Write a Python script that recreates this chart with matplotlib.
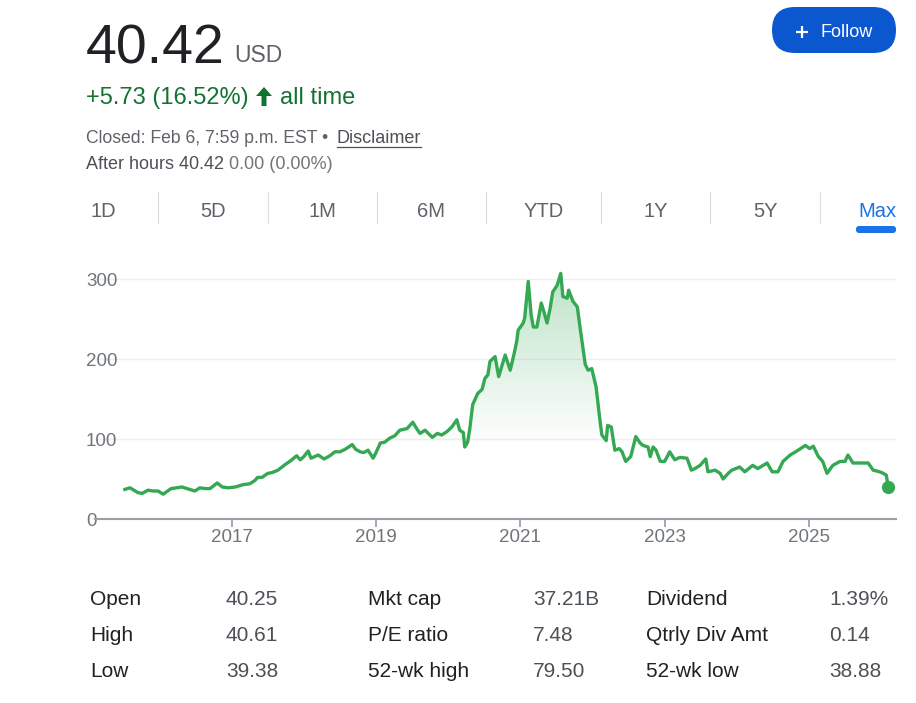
import numpy as np
import matplotlib
matplotlib.use("Agg")
import matplotlib.pyplot as plt
from matplotlib.colors import LinearSegmentedColormap
from matplotlib.patches import FancyBboxPatch, Polygon

plt.rcParams['font.family'] = ['Liberation Sans', 'DejaVu Sans']

# ---------------- data ----------------
years = [2015.52, 2015.59, 2015.70, 2015.76, 2015.84, 2015.91, 2015.98, 2016.05, 2016.16, 2016.24,
         2016.31, 2016.38, 2016.49, 2016.56, 2016.63, 2016.70, 2016.80, 2016.87, 2016.95, 2017.05,
         2017.16, 2017.25, 2017.32, 2017.36, 2017.42, 2017.50, 2017.56, 2017.64, 2017.74, 2017.82,
         2017.90, 2017.95, 2018.00, 2018.06, 2018.10, 2018.20, 2018.28, 2018.36, 2018.43, 2018.50,
         2018.57, 2018.67, 2018.72, 2018.78, 2018.83, 2018.89, 2018.96, 2019.00, 2019.06, 2019.12,
         2019.19, 2019.26, 2019.33, 2019.43, 2019.51, 2019.57, 2019.61, 2019.68, 2019.78, 2019.85,
         2019.91, 2019.98, 2020.05, 2020.12, 2020.16, 2020.21, 2020.23, 2020.27, 2020.30, 2020.34,
         2020.41, 2020.47, 2020.51, 2020.55, 2020.58, 2020.65, 2020.70, 2020.79, 2020.86, 2020.91,
         2020.95, 2020.97, 2021.04, 2021.06, 2021.11, 2021.15, 2021.18, 2021.23, 2021.29, 2021.33,
         2021.37, 2021.41, 2021.45, 2021.51, 2021.56, 2021.59, 2021.65, 2021.67, 2021.73, 2021.79,
         2021.83, 2021.90, 2021.94, 2021.99, 2022.05, 2022.10, 2022.13, 2022.19, 2022.21, 2022.26,
         2022.31, 2022.37, 2022.41, 2022.46, 2022.53, 2022.60, 2022.66, 2022.70, 2022.77, 2022.80,
         2022.84, 2022.88, 2022.94, 2023.00, 2023.07, 2023.14, 2023.21, 2023.31, 2023.37, 2023.42,
         2023.49, 2023.57, 2023.60, 2023.70, 2023.77, 2023.81, 2023.88, 2023.93, 2024.04, 2024.11,
         2024.22, 2024.29, 2024.42, 2024.49, 2024.57, 2024.64, 2024.74, 2024.85, 2024.95, 2025.01,
         2025.06, 2025.13, 2025.19, 2025.25, 2025.33, 2025.43, 2025.50, 2025.54, 2025.61, 2025.75,
         2025.82, 2025.89, 2025.94, 2026.01, 2026.07, 2026.10]

prices = [37, 39, 33, 32, 36, 35, 35, 31, 38, 39,
          40, 38, 35, 39, 38, 38, 45, 40, 39, 40,
          43, 44, 48, 52, 52, 57, 58, 61, 68, 73,
          79, 74, 78, 85, 76, 80, 75, 79, 84, 84,
          87, 93, 87, 84, 83, 86, 76, 83, 95, 96,
          101, 104, 111, 113, 121, 112, 107, 111, 102, 107,
          105, 109, 115, 124, 111, 108, 90, 96, 113, 143,
          157, 162, 176, 180, 197, 203, 178, 205, 186, 205,
          222, 236, 245, 251, 297, 255, 240, 240, 270, 258,
          245, 262, 284, 292, 307, 278, 276, 286, 272, 265,
          238, 193, 186, 188, 165, 126, 105, 98, 117, 115,
          86, 88, 84, 72, 78, 103, 95, 92, 90, 78,
          90, 86, 72, 72, 84, 74, 77, 76, 61, 63,
          67, 75, 59, 61, 57, 50, 57, 61, 65, 59,
          67, 63, 70, 59, 59, 72, 80, 86, 92, 88,
          91, 78, 72, 57, 67, 72, 72, 80, 70, 70,
          70, 61, 60, 58, 55, 40.42]

x_ticks = [2017, 2019, 2021, 2023, 2025]
y_ticks = [0, 100, 200, 300]

price_now = "40.42"
currency = "USD"
change_text = "+5.73 (16.52%)"
change_period = "all time"
closed_text = "Closed: Feb 6, 7:59 p.m. EST \u2022"
disclaimer = "Disclaimer"
after_hours_label = "After hours 40.42"
after_hours_change = "0.00 (0.00%)"
tabs = ["1D", "5D", "1M", "6M", "YTD", "1Y", "5Y", "Max"]
stat_names_1 = ["Open", "High", "Low"]
stat_vals_1 = ["40.25", "40.61", "39.38"]
stat_names_2 = ["Mkt cap", "P/E ratio", "52-wk high"]
stat_vals_2 = ["37.21B", "7.48", "79.50"]
stat_names_3 = ["Dividend", "Qtrly Div Amt", "52-wk low"]
stat_vals_3 = ["1.39%", "0.14", "38.88"]

# ---------------- styling ----------------
GREEN = "#34a853"
DARK_GREEN = "#137333"
GRAY_TXT = "#70757a"
DARK = "#202124"
BLUE = "#1a73e8"

W, H = 916, 703
fig = plt.figure(figsize=(W / 100, H / 100), dpi=100)
fig.patch.set_facecolor("white")

# overlay axes in pixel coordinates for header / table
ov = fig.add_axes([0, 0, 1, 1], zorder=0)
ov.set_xlim(0, W)
ov.set_ylim(H, 0)
ov.axis("off")

# chart axes
x_lo, x_hi = 2015.106, 2026.206
ax = fig.add_axes([95 / W, (H - 519) / H, (896 - 95) / W, 256 / H], zorder=1)
ax.patch.set_alpha(0)
ax.set_xlim(x_lo, x_hi)
ax.set_ylim(0, 320)

for g in y_ticks[1:]:
    ax.axhline(g, color="#eeeff1", lw=1.0, zorder=0)

# gradient fill under the curve
poly = ax.fill_between(years, prices, 0, color="none", lw=0)
cmap = LinearSegmentedColormap.from_list(
    "g", [(0.0, (0.204, 0.659, 0.325, 0.0)),
          (0.28, (0.204, 0.659, 0.325, 0.0)),
          (1.0, (0.204, 0.659, 0.325, 0.34))])
grad = np.linspace(0, 1, 256).reshape(-1, 1)
im = ax.imshow(grad, extent=[x_lo, x_hi, 0, 320], origin="lower", cmap=cmap,
               aspect="auto", zorder=1, interpolation="bilinear")
im.set_clip_path(poly.get_paths()[0], transform=ax.transData)

ax.plot(years, prices, color=GREEN, lw=2.4, zorder=3, solid_joinstyle="round")
ax.plot([years[-1]], [prices[-1]], "o", color=GREEN, ms=8.5, zorder=4)

for s in ["top", "right", "left"]:
    ax.spines[s].set_visible(False)
ax.spines["bottom"].set_color("#9aa0a6")
ax.spines["bottom"].set_linewidth(1.5)

ax.set_xticks(x_ticks)
ax.set_xticklabels([str(t) for t in x_ticks])
ax.tick_params(axis="x", colors="#9aa0a6", width=1.3, length=6, pad=1.5,
               labelcolor=GRAY_TXT, labelsize=13.5)
ax.set_yticks(y_ticks)
ax.set_yticklabels([str(t) for t in y_ticks])
ax.tick_params(axis="y", length=0, pad=6.5, labelcolor=GRAY_TXT, labelsize=13.5)
for lab in ax.get_yticklabels():
    lab.set_horizontalalignment("left")

# ---------------- header ----------------
ov.text(86, 63, price_now, fontsize=40, color=DARK, va="baseline", ha="left")
ov.text(234, 62, currency, fontsize=16.5, color="#5f6368", va="baseline", ha="left")

ov.text(86, 104, change_text, fontsize=17, color=DARK_GREEN, va="baseline", ha="left")
arrow = Polygon([(256, 96), (264, 87), (272, 96), (266.5, 96), (266.5, 106),
                 (261.5, 106), (261.5, 96)], closed=True, color=DARK_GREEN, lw=0)
ov.add_patch(arrow)
ov.text(280, 104, change_period, fontsize=17, color=DARK_GREEN, va="baseline", ha="left")

ov.text(86, 143, closed_text, fontsize=12.7, color="#5f6368", va="baseline", ha="left")
ov.text(337, 143, disclaimer, fontsize=13, color="#4d5156", va="baseline", ha="left")
ov.plot([337, 421], [146.5, 146.5], color="#4d5156", lw=0.9)

ov.text(86, 169, after_hours_label, fontsize=13, color="#4d5156", va="baseline", ha="left")
ov.text(229, 169, after_hours_change, fontsize=13, color=GRAY_TXT, va="baseline", ha="left")

# Follow button
btn = FancyBboxPatch((772, 7), 124, 46, boxstyle="round,pad=0,rounding_size=23",
                     fc="#0b57d0", ec="none")
ov.add_patch(btn)
ov.plot([796, 808], [31.5, 31.5], color="white", lw=1.6, solid_capstyle="butt")
ov.plot([802, 802], [25.5, 37.5], color="white", lw=1.6, solid_capstyle="butt")
ov.text(821, 37, "Follow", fontsize=13, color="white", va="baseline", ha="left")

# tabs
seps = [158, 268, 377, 486, 601, 710, 820]
for sx in seps:
    ov.plot([sx, sx], [192, 223], color="#dadce0", lw=0.8)
tab_x = [91] + [(seps[i] + seps[i + 1]) / 2 for i in range(len(seps) - 1)] + [896]
for i, t in enumerate(tabs):
    ha = "left" if i == 0 else ("right" if i == len(tabs) - 1 else "center")
    col = BLUE if t == "Max" else "#5f6368"
    ov.text(tab_x[i], 217, t, fontsize=14.5, color=col, va="baseline", ha=ha)
ov.add_patch(FancyBboxPatch((856, 226), 40, 7, boxstyle="round,pad=0,rounding_size=3",
                            fc=BLUE, ec="none"))

# stats table
row_y = [605, 641, 677]
cols = [(90, stat_names_1, DARK), (226, stat_vals_1, "#4d5156"),
        (368, stat_names_2, DARK), (533, stat_vals_2, "#4d5156"),
        (646, stat_names_3, DARK), (829, stat_vals_3, "#4d5156")]
for cx, items, col in cols:
    for ry, txt in zip(row_y, items):
        ov.text(cx, ry, txt, fontsize=15, color=col, va="baseline", ha="left")

fig.savefig("out.png", dpi=100, facecolor="white")
